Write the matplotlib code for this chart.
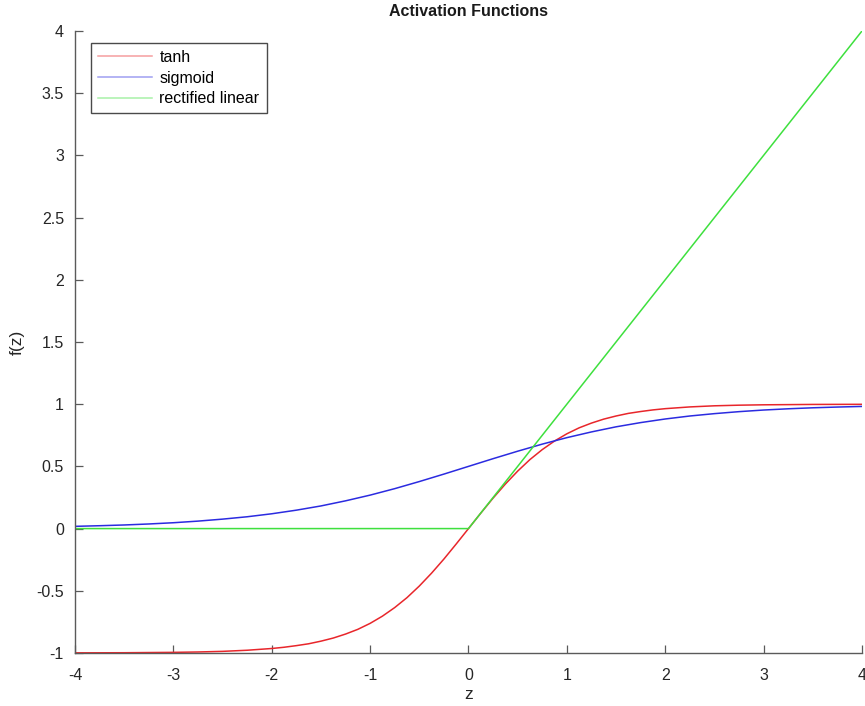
import numpy as np
import matplotlib.pyplot as plt

plt.rcParams['font.family'] = ['Liberation Sans', 'DejaVu Sans']

# tanh samples, denser around the steep middle part
tanh_z = [-4.0, -3.5, -3.0, -2.75, -2.5, -2.25, -2.0, -1.875, -1.75, -1.625,
          -1.5, -1.375, -1.25, -1.125, -1.0, -0.875, -0.75, -0.625, -0.5,
          -0.375, -0.25, -0.125, 0.0, 0.125, 0.25, 0.375, 0.5, 0.625, 0.75,
          0.875, 1.0, 1.125, 1.25, 1.375, 1.5, 1.625, 1.75, 1.875, 2.0, 2.25,
          2.5, 2.75, 3.0, 3.5, 4.0]
tanh_vals = [-0.999, -0.998, -0.995, -0.992, -0.987, -0.978, -0.964, -0.954,
             -0.941, -0.926, -0.905, -0.880, -0.848, -0.810, -0.762, -0.704,
             -0.635, -0.555, -0.462, -0.358, -0.245, -0.124, 0.0, 0.124,
             0.245, 0.358, 0.462, 0.555, 0.635, 0.704, 0.762, 0.810, 0.848,
             0.880, 0.905, 0.926, 0.941, 0.954, 0.964, 0.978, 0.987, 0.992,
             0.995, 0.998, 0.999]

sig_z = [-4.0, -3.75, -3.5, -3.25, -3.0, -2.75, -2.5, -2.25, -2.0, -1.75,
         -1.5, -1.25, -1.0, -0.75, -0.5, -0.25, 0.0, 0.25, 0.5, 0.75, 1.0,
         1.25, 1.5, 1.75, 2.0, 2.25, 2.5, 2.75, 3.0, 3.25, 3.5, 3.75, 4.0]
sigmoid_vals = [0.018, 0.023, 0.029, 0.037, 0.047, 0.060, 0.076, 0.095,
                0.119, 0.148, 0.182, 0.223, 0.269, 0.321, 0.378, 0.438,
                0.500, 0.562, 0.622, 0.679, 0.731, 0.777, 0.818, 0.852,
                0.881, 0.905, 0.924, 0.940, 0.953, 0.963, 0.971, 0.977, 0.982]

relu_z = [-4.0, 0.0, 4.0]
relu_vals = [0.0, 0.0, 4.0]

xticks = [-4, -3, -2, -1, 0, 1, 2, 3, 4]
yticks = [-1, -0.5, 0, 0.5, 1, 1.5, 2, 2.5, 3, 3.5, 4]

fig = plt.figure(figsize=(8.65, 7.06), dpi=100)
ax = fig.add_axes([0.0867, 0.0751, 0.9098, 0.881])

ax.plot(tanh_z, tanh_vals, color='#e8262b', lw=1.1, label='tanh')
ax.plot(sig_z, sigmoid_vals, color='#2b2be0', lw=1.1, label='sigmoid')
ax.plot(relu_z, relu_vals, color='#3ee03e', lw=1.1, label='rectified linear')

ax.set_xlim(-4, 4)
ax.set_ylim(-1, 4)
ax.set_xticks(xticks)
ax.set_yticks(yticks)
ax.set_xticklabels([str(t) for t in xticks])
ax.set_yticklabels([('%g' % t) for t in yticks])

for side in ['top', 'right']:
    ax.spines[side].set_visible(False)
for side in ['left', 'bottom']:
    ax.spines[side].set_color('#5a5a5a')
    ax.spines[side].set_linewidth(1.0)

ax.tick_params(direction='in', length=6, width=0.9, color='#5a5a5a',
               labelsize=11.5, labelcolor='#262626')
ax.tick_params(axis='x', pad=11)
ax.tick_params(axis='y', pad=8)

ax.set_xlabel('z', fontsize=12.5, color='#262626', labelpad=3)
ax.set_ylabel('f(z)', fontsize=12.5, color='#262626', labelpad=8)
ax.set_title('Activation Functions', fontsize=11.5, fontweight='bold',
             color='#1a1a1a', pad=11)

leg = ax.legend(loc='upper left', bbox_to_anchor=(0.02, 0.981), fontsize=11.5,
                fancybox=False, framealpha=1, edgecolor='#4a4a4a',
                borderaxespad=0, handlelength=3.4, handletextpad=0.45,
                borderpad=0.45, labelspacing=0.35)
leg.get_frame().set_linewidth(1.0)
for line in leg.get_lines():
    line.set_alpha(0.45)

fig.savefig('out.png', dpi=100)
